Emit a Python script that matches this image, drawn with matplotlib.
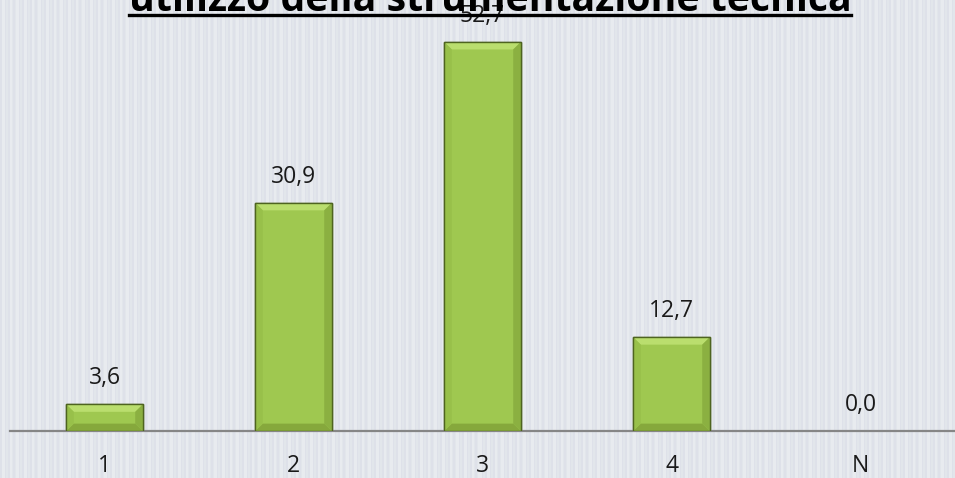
import matplotlib.pyplot as plt
from matplotlib.patches import Polygon
from matplotlib.lines import Line2D
import numpy as np

categories = ["1", "2", "3", "4", "N"]
values = [3.6, 30.9, 52.7, 12.7, 0.0]
value_labels = ["3,6", "30,9", "52,7", "12,7", "0,0"]
title = "utilizzo della strumentazione tecnica"

plt.rcParams['font.family'] = ['Open Sans', 'DejaVu Sans']

fig = plt.figure(figsize=(9.55, 4.78), dpi=100)

# striped background
bg = fig.add_axes([0, 0, 1, 1], zorder=-10)
pattern = np.array([0, 0, 1, 1, 1, 0, 2, 2, 0, 0, 1, 1, 2, 0, 0, 2, 1, 1, 1, 0, 2, 2])
cols = np.tile(pattern, 50)[:955]
shades = np.array([[0.871, 0.886, 0.914], [0.910, 0.922, 0.941], [0.890, 0.902, 0.925]])
img = shades[cols][np.newaxis, :, :].repeat(2, axis=0)
bg.imshow(img, aspect='auto', extent=[0, 1, 0, 1], interpolation='nearest')
bg.axis('off')

ax = fig.add_axes([0.0105, 0.0983, 0.9895, 0.9017])
ax.patch.set_alpha(0)
x = np.arange(len(categories))
width = 0.405
ax.set_xlim(-0.5, len(categories) - 0.5)
ax.set_ylim(0, 58.4)

bars = ax.bar(x, values, width=width, color='#9fc850', edgecolor='#4e6420', linewidth=1.0, zorder=2)

# bevel effect
dx, dy = 0.04, 1.0
for xi, v in zip(x, values):
    if v <= 0:
        continue
    l, r = xi - width / 2, xi + width / 2
    d = min(dy, v / 3)
    ax.add_patch(Polygon([(l, v), (r, v), (r - dx, v - d), (l + dx, v - d)],
                         closed=True, facecolor='#bade6e', edgecolor='none', zorder=3))
    ax.add_patch(Polygon([(l, 0), (r, 0), (r - dx, d), (l + dx, d)],
                         closed=True, facecolor='#86a83c', edgecolor='none', zorder=3))
    ax.add_patch(Polygon([(l, 0), (l, v), (l + dx, v - d), (l + dx, d)],
                         closed=True, facecolor='#98c04a', edgecolor='none', zorder=3))
    ax.add_patch(Polygon([(r, 0), (r, v), (r - dx, v - d), (r - dx, d)],
                         closed=True, facecolor='#8bb041', edgecolor='none', zorder=3))
    ax.add_patch(plt.Rectangle((l, 0), width, v, facecolor='none', edgecolor='#4e6420',
                               linewidth=1.0, zorder=4))

for xi, v, lab in zip(x, values, value_labels):
    ax.annotate(lab, (xi, v), xytext=(0, 14.5), textcoords='offset points',
                ha='center', va='baseline', fontsize=16.5, color='#1a1a1a', zorder=5)

for s in ['top', 'right', 'left']:
    ax.spines[s].set_visible(False)
ax.spines['bottom'].set_color('#868686')
ax.spines['bottom'].set_linewidth(1.6)
ax.set_yticks([])
ax.set_xticks(x)
ax.set_xticklabels(categories, fontsize=16.5, color='#1a1a1a')
ax.tick_params(axis='x', length=0, pad=16.5)

t = fig.text(0.513, 1 - 11 / 478, title, ha='center', va='baseline',
             fontsize=28.3, fontweight='bold', color='black', zorder=10)
fig.canvas.draw()
bb = t.get_window_extent().transformed(fig.transFigure.inverted())
fig.add_artist(Line2D([bb.x0, bb.x1], [1 - 14.5 / 478] * 2, color='black', linewidth=2.4))

fig.savefig("out.png", dpi=100)
plt.close()
